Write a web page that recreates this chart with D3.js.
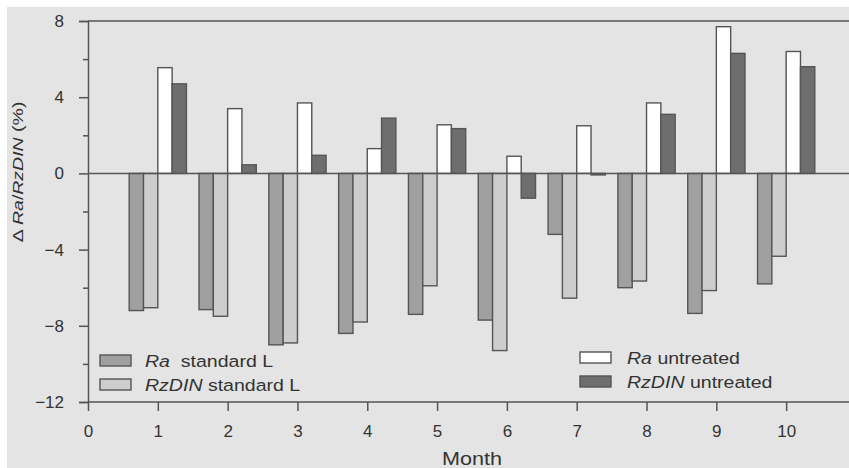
<!DOCTYPE html>
<html><head><meta charset="utf-8">
<script src="https://cdn.jsdelivr.net/npm/d3@7"></script>
<style>body{margin:0;background:#fff}svg{display:block}text{font-family:"Liberation Sans",Arial,sans-serif;fill:#333}</style>
</head><body>
<script>
const months = [1,2,3,4,5,6,7,8,9,10];
const raStandard = [-7.2,-7.15,-9.0,-8.4,-7.4,-7.7,-3.2,-6.0,-7.35,-5.8];
const rzStandard = [-7.05,-7.5,-8.9,-7.8,-5.9,-9.3,-6.55,-5.65,-6.15,-4.35];
const raUntreated = [5.55,3.4,3.7,1.3,2.55,0.9,2.5,3.7,7.7,6.4];
const rzUntreated = [4.7,0.45,0.95,2.9,2.35,-1.3,-0.08,3.1,6.3,5.6];
const xTicks = [0,1,2,3,4,5,6,7,8,9,10];
const yTicks = [-12,-8,-4,0,4,8];
const yMinor = [-10,-6,-2,2,6];
const seriesNames = ["Ra standard L","RzDIN standard L","Ra untreated","RzDIN untreated"];
const colors = ["#a0a0a0","#cdcdcd","#ffffff","#6e6e6e"];

const W=849,H=468;
const svg=d3.select("body").append("svg").attr("width",W).attr("height",H);
svg.append("rect").attr("x",7).attr("y",7).attr("width",W-7).attr("height",H-7).attr("fill","#e4e4e4");

const x=d3.scaleLinear().domain([0,10.9]).range([88,849]);
const y=d3.scaleLinear().domain([-12,8]).range([402,21]);
const bw=x(0.205)-x(0);
const series=[raStandard,rzStandard,raUntreated,rzUntreated];
const offsets=[-2,-1,0,1];
const axisColor="#555";
const SX=1.15;

series.forEach((vals,si)=>{
  svg.append("g").selectAll("rect").data(vals).join("rect")
    .attr("x",(d,i)=>x(months[i])+offsets[si]*bw)
    .attr("width",bw)
    .attr("y",d=>y(Math.max(0,d)))
    .attr("height",d=>Math.abs(y(d)-y(0)))
    .attr("fill",colors[si]).attr("stroke","#555").attr("stroke-width",1.4);
});

svg.append("line").attr("x1",88).attr("x2",W).attr("y1",y(0)).attr("y2",y(0)).attr("stroke",axisColor).attr("stroke-width",1.5);
svg.append("line").attr("x1",88).attr("x2",W).attr("y1",y(8)).attr("y2",y(8)).attr("stroke",axisColor).attr("stroke-width",1.5);

const ya=svg.append("g").attr("transform","translate(88,0)")
  .call(d3.axisLeft(y).tickValues(yTicks).tickSize(9).tickPadding(15).tickFormat(d3.format("d")));
ya.selectAll("text").style("font-size","17px").attr("fill","#333");
svg.append("g").attr("transform","translate(88,0)")
  .call(d3.axisLeft(y).tickValues(yMinor).tickSize(5).tickFormat(""))
  .call(g=>g.select(".domain").remove());
const xa=svg.append("g").attr("transform","translate(0,402)")
  .call(d3.axisBottom(x).tickValues(xTicks).tickSize(9).tickPadding(14).tickFormat(d3.format("d")));
xa.select(".domain").attr("d",`M88,0H${W}`);
xa.selectAll("text").style("font-size","17px").attr("fill","#333");
svg.selectAll(".domain,.tick line").attr("stroke",axisColor).attr("stroke-width",1.5);

svg.append("text").attr("transform","translate(472,465) scale(1.2,1)").attr("text-anchor","middle").style("font-size","18px").text("Month");
const yl=svg.append("text").attr("transform","translate(23,172) rotate(-90) scale(1.3,1)").attr("text-anchor","middle").style("font-size","15px");
yl.append("tspan").text("Δ ");
yl.append("tspan").attr("font-style","italic").text("Ra");
yl.append("tspan").text("/");
yl.append("tspan").attr("font-style","italic").text("RzDIN");
yl.append("tspan").text(" (%)");

const legendItems=[
  {x:100,y:355,tx:145,c:0,it:"Ra",rest:"  standard L"},
  {x:100,y:379,tx:145,c:1,it:"RzDIN",rest:" standard L"},
  {x:580,y:352,tx:627,c:2,it:"Ra",rest:" untreated"},
  {x:580,y:376,tx:627,c:3,it:"RzDIN",rest:" untreated"}
];
legendItems.forEach(l=>{
  svg.append("rect").attr("x",l.x).attr("y",l.y).attr("width",31).attr("height",11)
    .attr("fill",colors[l.c]).attr("stroke","#555").attr("stroke-width",1.4);
  const t=svg.append("text").attr("transform",`translate(${l.tx},${l.y+12}) scale(${SX},1)`)
    .style("font-size","17px").style("white-space","pre");
  t.append("tspan").attr("font-style","italic").text(l.it);
  t.append("tspan").text(l.rest);
});
</script>
</body></html>
